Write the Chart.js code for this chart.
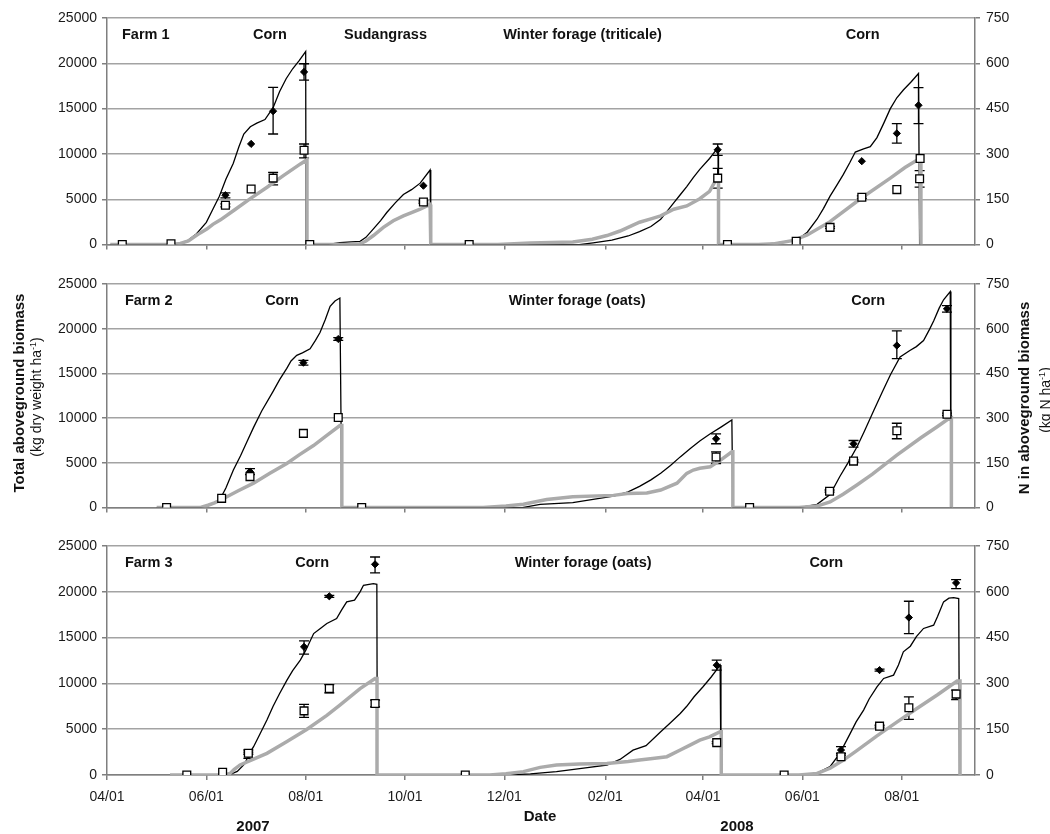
<!DOCTYPE html>
<html>
<head>
<meta charset="utf-8">
<script src="https://cdn.jsdelivr.net/npm/chart.js@4.4.0/dist/chart.umd.min.js"></script>
<style>
  body { margin: 0; background: #fff; font-family: "Liberation Sans", Arial, sans-serif; }
  #wrap { position: relative; width: 1050px; height: 834px; overflow: hidden; }
  canvas { position: absolute; left: 0; }
  .t { position: absolute; white-space: nowrap; color: #111; transform: translate(-50%, -50%); }
  .rot { transform: translate(-50%, -50%) rotate(-90deg); }
  .b { font-weight: bold; font-size: 15px; }
  .n { font-size: 14px; }
  sup { font-size: 9px; }
</style>
</head>
<body>
<div id="wrap">
  <canvas id="farm1" width="1050" height="259" style="top:0px"></canvas>
  <canvas id="farm2" width="1050" height="256" style="top:266px"></canvas>
  <canvas id="farm3" width="1050" height="287" style="top:528px"></canvas>

  <div class="t rot b" style="left:18px; top:393px;">Total aboveground biomass</div>
  <div class="t rot n" style="left:36px; top:397px;">(kg dry weight ha<sup>-1</sup>)</div>
  <div class="t rot b" style="left:1023px; top:398px;">N in aboveground biomass</div>
  <div class="t rot n" style="left:1045px; top:400px;">(kg N ha<sup>-1</sup>)</div>
  <div class="t b" style="left:540px; top:815px;">Date</div>
  <div class="t b" style="left:253px; top:825px;">2007</div>
  <div class="t b" style="left:737px; top:825px;">2008</div>
</div>

<script>
// x axis: days since 04/01/2007
const tickDays = [0, 61, 122, 183, 244, 306, 366, 427, 488];
const tickLabels = ['04/01', '06/01', '08/01', '10/01', '12/01', '02/01', '04/01', '06/01', '08/01'];

// ---------------- Farm 1 ----------------
// simulated biomass (kg/ha) [day, value]
const simBio1 = [
  [2,0],[40,0],[45,150],[50,500],[55,1200],[61,2450],[65,3900],[69,5340],[73,7200],[77.5,8950],[81,10800],[84,12200],
  [88,13000],[92,13400],[97,13800],[102,15100],[106,16900],[110,18300],[114,19400],[118,20300],[122,21300],[122.2,0],
  [135,0],[143,220],[150,300],[155.4,360],[159,800],[163.6,1730],[168,2650],[171.8,3540],[177,4600],[182,5520],[187,6060],
  [192.3,6780],[198.4,8230],[198.8,0],
  [290,0],[298.5,200],[310,500],[320,950],[327,1440],[334,2000],[340,2800],[344,3700],[348,4600],[352,5500],[356,6400],
  [360,7400],[364,8300],[370,9500],[375.2,10700],[375.5,0],
  [400,0],[410,150],[421.6,470],[426,800],[430,1370],[436,2800],[440,4000],[444,5340],[448,6500],[452,7690],[456,9000],
  [459.5,10210],[464.6,10570],[468.7,10800],[472.8,11800],[477,13400],[481,15000],[485,16200],[489,17060],[494,18000],
  [498.3,18870],[499,0]
];
// simulated N (kg N/ha)
const simN1 = [
  [2,0],[40,0],[45,4],[50,12],[53.4,25],[57,38],[61.5,52],[65,67],[69.7,82],[77.8,113],[88,152],[98.3,190],[108.5,229],
  [118.8,267],[122.8,281],[122.8,0],
  [147,0],[155,2],[159,12],[163.6,30],[169.7,57],[175.8,79],[182,95],[187,106],[192.3,117],[198.4,133],[198.8,133],[198.8,0],
  [240,0],[260,5],[286,9],[298,18],[307,30],[315,45],[322,62],[327,74],[334,85],[340,95],[348,117],[356,128],[364,152],
  [370,176],[374.5,220],[375.5,222],[375.5,0],
  [400,0],[410,3],[421.6,14],[430,32],[444,76],[463.5,155],[481,220],[490,255],[497.3,279],[499.3,285],[499.8,285],[499.8,0]
];
// observed [day, value, low, high]
const obsBio1 = [
  [72.7,5450,5160,5700],[88.5,11110],[102,14720,12200,17350],[121,19050,18150,19950],[194.3,6500],
  [375,10460,9850,11100],[463.5,9200],[485,12270,11190,13350],[498.3,15370,13350,17320]
];
const obsN1 = [
  [9.4,0],[39.3,3],[72.7,130,125,135],[88.5,184],[102,220,198,239],[121,312,287,333],[124.5,0],[194.3,141,137,145],
  [222.4,0],[375,220,187,252],[381,0],[423.2,11],[444,57,54,60],[463.5,157,153,161],[485,182],[499,218,190,245],[499.3,285]
];

// ---------------- Farm 2 ----------------
const simBio2 = [
  [30.5,0],[57,0],[62,200],[66,500],[69.4,915],[73,2200],[77.6,4200],[82,5800],[86,7400],[90,8970],[95,10800],[102,13000],
  [106,14300],[110.4,15560],[113,16400],[116.5,17020],[120,17300],[124.7,17750],[128,18700],[130.8,19580],[134,21000],
  [137,22500],[140,23100],[143,23430],[144.2,0],
  [255,0],[266,360],[286,550],[311,1280],[320,1750],[327,2380],[334,3100],[340,3840],[346,4700],[352,5670],[358,6590],
  [364,7450],[370,8200],[377,9000],[383.7,9800],[384.3,0],
  [425,0],[436,366],[444,1465],[450,3480],[455,5000],[460.5,6770],[465,8500],[470.7,10800],[476,12900],[481,14820],
  [487,16840],[493,17570],[497,18000],[501.4,18670],[505,19900],[507.6,20860],[511,22300],[513.7,23240],[517.8,24160],[518.2,0]
];
const simN2 = [
  [30.5,0],[57,0],[62,8],[66,16],[70.4,27],[80,55],[90,82],[100,115],[110.4,148],[118,177],[126.8,208],[135,242],[143,275],
  [144.2,275],[144.2,0],
  [231,0],[245,5],[255.7,11],[270,27],[286,36],[311,41],[319.5,47],[331.5,49],[340,59],[350,82],[356,115],[360,126],[364,132],
  [370.4,137],[377,160],[383.7,187],[384.3,187],[384.3,0],
  [425,0],[436,5],[444,19],[452,45],[460.5,76],[470,112],[485,176],[500,235],[510,272],[517.8,302],[518.5,302],[518.5,0]
];
const obsBio2 = [
  [87.8,4030,3700,4350],[120.6,16200,15930,16470],[142,18850,18700,19000],[374,7690,7140,8240],[458.4,7140,6770,7500],
  [485,18120,16660,19770],[515.8,22220,21860,22590]
];
const obsN2 = [
  [36.6,0],[70.4,31],[87.8,104],[120.6,249],[142,302],[156.4,0],[374,170,148,187],[394.6,0],[443.7,55,52,59],
  [458.4,156,153,160],[485,258,231,283],[515.8,313,309,317]
];

// ---------------- Farm 3 ----------------
const simBio3 = [
  [38.7,0],[72,0],[76,100],[80,400],[84.8,1270],[87,2200],[90,3090],[94,4500],[98.2,6000],[102,7500],[106,8900],
  [110.5,10360],[114,11400],[118.7,12540],[122,13600],[126.9,15440],[131,16000],[135,16540],[141,17080],[144,18000],
  [147.2,18900],[152,19080],[155.4,20000],[157.5,20710],[163.6,20890],[165.7,20820],[166,0],
  [245,0],[260,120],[276,360],[295,800],[307,1090],[315,1700],[323,2710],[331,3200],[340,4720],[346,5700],[352,6720],
  [356,7500],[360.5,8540],[366,9630],[371,10700],[376.5,12000],[377,0],
  [425,0],[436,200],[444,910],[450,2360],[456.4,4540],[460,5800],[464.6,7090],[468,8300],[472.8,9630],[476.9,10540],
  [483,10900],[486,12000],[489,13450],[493.3,14060],[497,15100],[501.4,16000],[507.6,16350],[510,17300],[513.7,18900],
  [517,19300],[519.9,19370],[523,19260],[523.5,0]
];
const simN3 = [
  [38.7,0],[72,0],[75.6,5],[78,18],[81.7,33],[90,52],[98.2,71],[110,108],[122.6,149],[135,195],[143,229],[155.4,283],
  [164.6,316],[165.8,316],[165.8,0],
  [235,0],[245,4],[255.7,11],[266,25],[276,33],[290,36],[307,38],[320,44],[327,49],[335,54],[343.8,60],[352,82],[358,98],
  [364,114],[370,125],[376.5,142],[377.2,142],[377.2,0],
  [425,0],[436,5],[444,22],[452,48],[460,78],[472.8,128],[485,173],[497.3,218],[510,263],[522,308],[523.8,308],[523.8,0]
];
const obsBio3 = [
  [86.8,2200,1820,2730],[121,13990,13190,14650],[136.5,19510,19400,19620],[164.6,23000,22060,23800],
  [374.4,11990,11450,12540],[450.7,2725,2360,3090],[474.4,11450,11350,11550],[492.4,17190,15440,18970],
  [521.4,20970,20350,21330]
];
const obsN3 = [
  [49,0],[71,9],[86.8,71,68,75],[121,210,189,231],[136.5,283,269,296],[164.6,234,223,245],[220,0],[374.4,106,103,109],
  [415.8,0],[450.7,60,55,65],[474.4,160,157,163],[492.4,220,182,256],[521.4,265,247,278]
];

// crop labels inside each panel
const notes1 = [['Farm 1', 9.2, 'left'], ['Corn', 100], ['Sudangrass', 171], ['Winter forage (triticale)', 292], ['Corn', 464]];
const notes2 = [['Farm 2', 11, 'left'], ['Corn', 107.5], ['Winter forage (oats)', 288.7], ['Corn', 467.4]];
const notes3 = [['Farm 3', 11, 'left'], ['Corn', 126], ['Winter forage (oats)', 292.4], ['Corn', 441.7]];


const toXY = arr => arr.map(p => ({ x: p[0], y: p[1], lo: p[2], hi: p[3] }));

// error bars for the observed points
const errorBars = {
  id: 'errorBars',
  beforeDatasetsDraw(chart) {
    const ctx = chart.ctx;
    chart.data.datasets.forEach((ds, i) => {
      if (!ds.errorBars) return;
      const meta = chart.getDatasetMeta(i);
      const ys = chart.scales[ds.yAxisID];
      ctx.save();
      ctx.strokeStyle = '#000';
      ctx.lineWidth = 1.3;
      meta.data.forEach((pt, j) => {
        const d = ds.data[j];
        if (d.lo == null) return;
        const yl = ys.getPixelForValue(d.lo), yh = ys.getPixelForValue(d.hi);
        ctx.beginPath();
        ctx.moveTo(pt.x, yl); ctx.lineTo(pt.x, yh);
        ctx.moveTo(pt.x - 5, yl); ctx.lineTo(pt.x + 5, yl);
        ctx.moveTo(pt.x - 5, yh); ctx.lineTo(pt.x + 5, yh);
        ctx.stroke();
      });
      ctx.restore();
    });
  }
};

// crop names at the top of each panel
const cropNotes = {
  id: 'cropNotes',
  afterDatasetsDraw(chart, args, opts) {
    const ctx = chart.ctx;
    const xs = chart.scales.x;
    ctx.save();
    ctx.font = 'bold 14.5px "Liberation Sans", Arial, sans-serif';
    ctx.fillStyle = '#111';
    ctx.textBaseline = 'middle';
    (opts.items || []).forEach(n => {
      ctx.textAlign = n[2] || 'center';
      ctx.fillText(n[0], xs.getPixelForValue(n[1]), chart.chartArea.top + 17);
    });
    ctx.restore();
  }
};

const tickFont = { family: '"Liberation Sans", Arial, sans-serif', size: 14 };
const gridGray = '#a3a3a3';
const axisGray = '#7f7f7f';

function buildPanel(id, simBio, simN, obsBio, obsN, notes, showDates) {
  return new Chart(document.getElementById(id), {
    type: 'scatter',
    data: {
      datasets: [
        { label: 'N observed', data: toXY(obsN), yAxisID: 'y2', pointStyle: 'rect', pointRadius: 5.5,
          backgroundColor: '#fff', borderColor: '#000', borderWidth: 1.3, errorBars: true },
        { label: 'Biomass observed', data: toXY(obsBio), yAxisID: 'y', pointStyle: 'rectRot', pointRadius: 3.6,
          backgroundColor: '#000', borderColor: '#000', borderWidth: 1, errorBars: true },
        { label: 'N simulated', data: toXY(simN), yAxisID: 'y2', showLine: true, pointRadius: 0,
          borderColor: '#ababab', borderWidth: 3.5, tension: 0 },
        { label: 'Biomass simulated', data: toXY(simBio), yAxisID: 'y', showLine: true, pointRadius: 0,
          borderColor: '#000', borderWidth: 1.3, tension: 0 }
      ]
    },
    options: {
      responsive: false,
      animation: false,
      layout: { padding: { top: 18, left: 0, right: 0, bottom: 0 } },
      plugins: {
        legend: { display: false },
        tooltip: { enabled: false },
        cropNotes: { items: notes }
      },
      scales: {
        x: {
          type: 'linear', min: 0, max: 533,
          afterBuildTicks: s => { s.ticks = tickDays.map(v => ({ value: v })); },
          afterFit: s => { s.height = showDates ? 40 : 10; },
          ticks: {
            display: showDates, autoSkip: false, maxRotation: 0, padding: 9,
            font: tickFont, color: '#1a1a1a',
            callback: v => tickLabels[tickDays.indexOf(v)]
          },
          grid: { drawOnChartArea: false, tickLength: 5, color: axisGray, lineWidth: 1.5 },
          border: { color: axisGray, width: 1.5 }
        },
        y: {
          position: 'left', min: 0, max: 25000,
          afterFit: s => { s.width = 107; },
          ticks: { stepSize: 5000, padding: 5, font: tickFont, color: '#1a1a1a', callback: v => String(v) },
          grid: { color: gridGray, lineWidth: 1.5, tickLength: 5, tickColor: axisGray },
          border: { color: axisGray, width: 1.5 }
        },
        y2: {
          position: 'right', min: 0, max: 750,
          afterFit: s => { s.width = 75; },
          ticks: { stepSize: 150, padding: 6, font: tickFont, color: '#1a1a1a', callback: v => String(v) },
          grid: { drawOnChartArea: false, tickLength: 5, color: axisGray, lineWidth: 1.5 },
          border: { color: axisGray, width: 1.5 }
        }
      }
    },
    plugins: [errorBars, cropNotes]
  });
}

buildPanel('farm1', simBio1, simN1, obsBio1, obsN1, notes1, false);
buildPanel('farm2', simBio2, simN2, obsBio2, obsN2, notes2, false);
buildPanel('farm3', simBio3, simN3, obsBio3, obsN3, notes3, true);
</script>
</body>
</html>
